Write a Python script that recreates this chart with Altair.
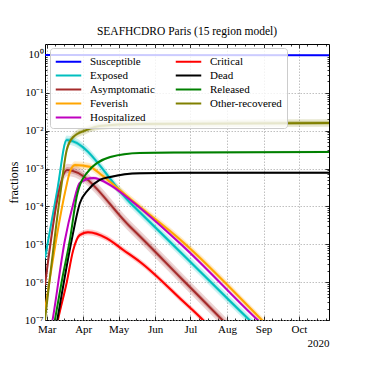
import altair as alt
import pandas as pd

FONT = "Liberation Serif"

SERIES = ["Susceptible", "Exposed", "Asymptomatic", "Feverish", "Hospitalized",
          "Critical", "Dead", "Released", "Other-recovered"]
COLORS = ["#0000ff", "#00bfbf", "#a52a2a", "#ffa500", "#bf00bf",
          "#ff0000", "#000000", "#008000", "#808000"]
# half-width of the uncertainty band (decades)
BAND = [0.01, 0.12, 0.16, 0.10, 0.05, 0.08, 0.03, 0.03, 0.10]

S_DATES = ["02-28T14:00", "10-26T12:00"]
S_VALUES = [1.0, 0.985]

E_DATES = ["02-28T14:00", "03-10", "03-18", "05-11", "06-24T12:00", "08-20", "09-02"]
E_VALUES = [4.3e-6, 2.7e-4, 5.7e-3, 1.23e-4, 5.4e-6, 1.0e-7, 4.1e-8]

A_DATES = ["02-28T14:00", "03-18T12:00", "05-11", "06-24T12:00", "07-28", "08-12"]
A_VALUES = [8.4e-7, 9.2e-4, 2.86e-5, 1.14e-6, 1.0e-7, 3.3e-8]

F_DATES = ["02-28T14:00", "03-17", "03-20T16:00", "03-25", "04-06T12:00", "04-15",
           "04-24", "05-11", "06-24T12:00", "08-30T12:00", "09-10T12:00"]
F_VALUES = [1.83e-7, 2.7e-4, 8.1e-4, 1.24e-3, 1.12e-3, 7.4e-4,
            4.4e-4, 1.57e-4, 1.15e-5, 1.0e-7, 4.5e-8]

H_DATES = ["02-28T14:00", "03-06", "03-16T12:00", "03-23T08:00", "03-29", "04-09T12:00",
           "04-24", "05-11", "06-24T12:00", "08-27", "09-07"]
H_VALUES = [8.7e-9, 1.0e-7, 1.3e-5, 1.1e-4, 4.15e-4, 5.6e-4,
            3.67e-4, 1.48e-4, 9.0e-6, 1.0e-7, 4.8e-8]

C_DATES = ["02-28T14:00", "03-10T14:00", "03-17T22:00", "03-23T12:00", "03-29", "04-05",
           "04-21", "05-05", "05-19", "06-24T12:00", "07-11T12:00", "07-22"]
C_VALUES = [1.4e-9, 1.0e-7, 9.5e-7, 7.0e-6, 1.75e-5, 2.07e-5,
            1.44e-5, 7.05e-6, 3.46e-6, 3.16e-7, 1.0e-7, 4.5e-8]

D_DATES = ["02-28T14:00", "03-10", "03-22T05:00", "03-29T05:00", "04-05", "04-15",
           "04-24", "05-19", "06-24T12:00", "10-26T12:00"]
D_VALUES = [1.4e-9, 1.0e-7, 1.3e-5, 1.23e-4, 2.7e-4, 5.0e-4,
            6.0e-4, 7.5e-4, 7.7e-4, 7.8e-4]

R_DATES = ["02-28T14:00", "03-08", "03-14", "03-20T16:00", "03-26T10:00", "04-04",
           "04-24", "05-19", "06-24T12:00", "10-26T12:00"]
R_VALUES = [3.5e-9, 1.0e-7, 1.14e-6, 1.3e-5, 1.77e-4, 7.6e-4,
            2.02e-3, 2.58e-3, 2.65e-3, 2.74e-3]

O_DATES = ["02-28T14:00", "03-13", "03-18", "03-23T12:00", "04-04", "04-15",
           "05-19", "10-26T12:00"]
O_VALUES = [1.0e-7, 2.7e-4, 3.1e-3, 6.8e-3, 1.05e-2, 1.33e-2, 1.5e-2, 1.6e-2]

MONTH_TICKS = [3, 4, 5, 6, 7, 8, 9, 10]
MINOR_DAYS = [8, 16, 24]
Y_MAJOR = [1e-7, 1e-6, 1e-5, 1e-4, 1e-3, 1e-2, 1e-1, 1.0]

ALL = [(S_DATES, S_VALUES), (E_DATES, E_VALUES), (A_DATES, A_VALUES),
       (F_DATES, F_VALUES), (H_DATES, H_VALUES), (C_DATES, C_VALUES),
       (D_DATES, D_VALUES), (R_DATES, R_VALUES), (O_DATES, O_VALUES)]


def ts(s):
    return "2020-" + s + ("" if "T" in s else "T00:00")


rows = []
for name, b, (dates, vals) in zip(SERIES, BAND, ALL):
    for d, v in zip(dates, vals):
        rows.append({
            "date": ts(d), "value": v, "series": name,
            "lo": v * 10 ** (-b), "hi": v * 10 ** b,
            "lo2": v * 10 ** (-b / 2), "hi2": v * 10 ** (b / 2),
        })
df = pd.DataFrame(rows)

months = [alt.DateTime(year=2020, month=m, date=1) for m in MONTH_TICKS]
minor_x = [alt.DateTime(year=2020, month=m, date=d) for m in MONTH_TICKS for d in MINOR_DAYS]
minor_y = [k * 10.0 ** e for e in range(-7, 0) for k in range(2, 10)]

xs = alt.Scale(domain=[alt.DateTime(year=2020, month=2, date=28, hours=14),
                       alt.DateTime(year=2020, month=10, date=26, hours=12)])
ys = alt.Scale(type="log", domain=[1e-7, 1.95])
cscale = alt.Scale(domain=SERIES, range=COLORS)

legend = alt.Legend(
    orient="none", legendX=5, legendY=4, columns=2, title=None,
    symbolType="M-1.7,0H1.7", symbolSize=225, symbolStrokeWidth=2, symbolOpacity=1,
    symbolOffset=5, labelOffset=13,
    labelFont=FONT, labelFontSize=11, labelColor="black",
    fillColor="rgba(255,255,255,0.8)", strokeColor="#cccccc", cornerRadius=3,
    padding=5, rowPadding=0, columnPadding=16)

label_expr = ("datum.value > 0.5 ? '10⁰' : datum.value > 0.05 ? '10⁻¹' : "
              "datum.value > 0.005 ? '10⁻²' : datum.value > 0.0005 ? '10⁻³' : "
              "datum.value > 0.00005 ? '10⁻⁴' : datum.value > 0.000005 ? '10⁻⁵' : "
              "datum.value > 0.0000005 ? '10⁻⁶' : '10⁻⁷'")


def tick_axis(orient, values, size):
    return alt.Axis(orient=orient, values=values, grid=False, domain=False,
                    tickSize=size, offset=-size, tickColor="black", tickWidth=0.8,
                    labels=False, title=None)


base = alt.Chart(df)

grid_dash = [1.5, 1.5]
outer = base.mark_area(opacity=0.2, clip=True, interpolate="monotone").encode(
    x=alt.X("date:T", scale=xs, axis=alt.Axis(orient="bottom", values=months, grid=True,
            gridColor="#b0b0b0", gridDash=grid_dash, gridWidth=0.8, ticks=False,
            labels=False, domain=False, title=None)),
    y=alt.Y("lo:Q", scale=ys, axis=alt.Axis(orient="left", values=Y_MAJOR, grid=True,
            gridColor="#b0b0b0", gridDash=grid_dash, gridWidth=0.8, ticks=False,
            labels=False, domain=False, title=None)),
    y2="hi:Q",
    color=alt.Color("series:N", scale=cscale, legend=legend),
)

inner = base.mark_area(opacity=0.28, clip=True, interpolate="monotone").encode(
    x=alt.X("date:T", scale=xs, axis=tick_axis("top", months, 4)),
    y=alt.Y("lo2:Q", scale=ys, axis=tick_axis("right", Y_MAJOR, 4)),
    y2="hi2:Q",
    color=alt.Color("series:N", scale=cscale, legend=legend),
)

lines = base.mark_line(strokeWidth=2, clip=True, interpolate="monotone").encode(
    x=alt.X("date:T", scale=xs, axis=alt.Axis(
        orient="bottom", values=months, format="%b", grid=False, domain=False,
        tickSize=4, offset=-4, tickColor="black", tickWidth=0.8, labelFlush=False,
        labelFont=FONT, labelFontSize=11, labelColor="black", labelPadding=3,
        title="2020", titleAnchor="end", titleFont=FONT, titleFontSize=11,
        titleFontWeight="normal", titleColor="black", titlePadding=3)),
    y=alt.Y("value:Q", scale=ys, axis=alt.Axis(
        orient="left", values=Y_MAJOR, labelExpr=label_expr, grid=False, domain=False,
        tickSize=4, offset=-4, tickColor="black", tickWidth=0.8, labelFlush=False,
        labelFont=FONT, labelFontSize=11, labelColor="black", labelPadding=2,
        title="fractions", titleFont=FONT, titleFontSize=12, titleFontWeight="normal",
        titleColor="black", titlePadding=4)),
    color=alt.Color("series:N", scale=cscale, legend=legend),
)

minor1 = base.mark_line(strokeOpacity=0).encode(
    x=alt.X("date:T", scale=xs, axis=tick_axis("bottom", minor_x, 2)),
    y=alt.Y("value:Q", scale=ys, axis=tick_axis("left", minor_y, 2)),
    detail="series:N",
)
minor2 = base.mark_line(strokeOpacity=0).encode(
    x=alt.X("date:T", scale=xs, axis=tick_axis("top", minor_x, 2)),
    y=alt.Y("value:Q", scale=ys, axis=tick_axis("right", minor_y, 2)),
    detail="series:N",
)

chart = alt.layer(outer, inner, minor1, minor2, lines).resolve_axis(
    x="independent", y="independent"
).properties(
    width=284, height=276,
    padding={"left": 37, "top": 36, "right": 29, "bottom": 38},
    autosize=alt.AutoSizeParams(type="none"),
    title=alt.TitleParams("SEAFHCDRO Paris (15 region model)", font=FONT, fontSize=11.5,
                          fontWeight="normal", color="black", offset=6, anchor="middle"),
).configure_view(
    stroke="black", strokeWidth=1
).configure_legend(
    labelFont=FONT, labelFontSize=11, labelColor="black",
)

chart.save("out.html", embed_options={"renderer": "svg", "actions": False})
